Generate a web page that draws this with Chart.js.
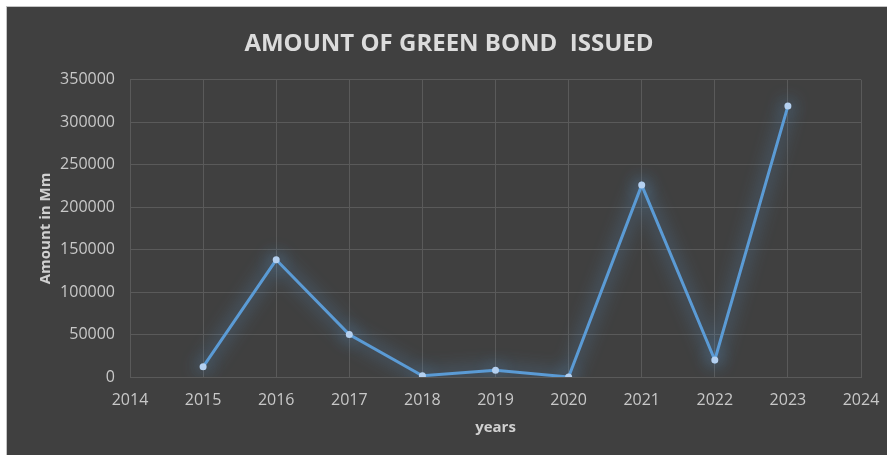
<!DOCTYPE html>
<html>
<head>
<meta charset="utf-8">
<script src="https://cdn.jsdelivr.net/npm/chart.js@4.4.1/dist/chart.umd.min.js"></script>
<style>
  html, body { margin: 0; padding: 0; background: #ffffff; }
  body { width: 887px; height: 455px; position: relative; overflow: hidden; }
  #panel {
    position: absolute; left: 6px; top: 6px; width: 881px; height: 449px;
    background: #404040; border-top: 1px solid #c4c4c4; border-left: 1px solid #c4c4c4;
    box-sizing: border-box;
  }
  #wrap { position: absolute; left: 0; top: 0; width: 880px; height: 448px; }
</style>
</head>
<body>
<div id="panel"><div id="wrap"><canvas id="chart" width="880" height="448"></canvas></div></div>
<script>
// Green bond issuance per year (millions)
const years = [2015, 2016, 2017, 2018, 2019, 2020, 2021, 2022, 2023];
const amounts = [12000, 138000, 50000, 1500, 8000, 0, 226000, 20000, 319000];
const yearTicks = [2014, 2015, 2016, 2017, 2018, 2019, 2020, 2021, 2022, 2023, 2024];
const amountTicks = [0, 50000, 100000, 150000, 200000, 250000, 300000, 350000];

const points = years.map((y, i) => ({ x: y, y: amounts[i] }));

// soft blue halo around the line
const glow = {
  id: 'glow',
  beforeDatasetDraw(chart) {
    const ctx = chart.ctx;
    ctx.save();
    ctx.shadowColor = 'rgba(91, 155, 213, 1)';
    ctx.shadowBlur = 18;
  },
  afterDatasetDraw(chart) {
    chart.ctx.restore();
  }
};

const gridColor = '#5a5a5a';
const tickColor = '#c8c8c8';
const fontFamily = '"Open Sans", sans-serif';

new Chart(document.getElementById('chart'), {
  type: 'line',
  data: {
    datasets: [{
      data: points,
      borderColor: '#5b9bd5',
      borderWidth: 3,
      pointRadius: 3.5,
      pointBackgroundColor: '#b4d0f0',
      pointBorderWidth: 0,
      tension: 0,
      fill: false
    }]
  },
  plugins: [glow],
  options: {
    responsive: false,
    animation: false,
    devicePixelRatio: 1,
    layout: { padding: { left: 30, right: 26, top: 0, bottom: 0 } },
    plugins: {
      legend: { display: false },
      tooltip: { enabled: false },
      title: {
        display: true,
        text: 'AMOUNT OF GREEN BOND  ISSUED',
        color: '#dcdcdc',
        font: { family: fontFamily, size: 24, weight: 'bold' },
        padding: { top: 23, bottom: 21 }
      }
    },
    scales: {
      x: {
        type: 'linear',
        min: yearTicks[0],
        max: yearTicks[yearTicks.length - 1],
        afterBuildTicks(scale) { scale.ticks = yearTicks.map(v => ({ value: v })); },
        afterFit(scale) { scale.height = 78; },
        grid: { color: gridColor, drawTicks: true, tickLength: 14, tickColor: 'rgba(0,0,0,0)' },
        border: { color: gridColor },
        ticks: {
          color: tickColor,
          font: { family: fontFamily, size: 16 },
          padding: 0,
          maxRotation: 0,
          callback: v => String(v)
        },
        title: {
          display: true,
          text: 'years',
          color: '#d0d0d0',
          font: { family: fontFamily, size: 15, weight: 'bold' },
          padding: { top: 0, bottom: 18 }
        }
      },
      y: {
        min: amountTicks[0],
        max: amountTicks[amountTicks.length - 1],
        afterBuildTicks(scale) { scale.ticks = amountTicks.map(v => ({ value: v })); },
        afterFit(scale) { scale.width = 93; },
        grid: { color: gridColor, drawTicks: true, tickLength: 15, tickColor: 'rgba(0,0,0,0)' },
        border: { color: gridColor },
        ticks: {
          color: tickColor,
          font: { family: fontFamily, size: 16 },
          padding: 0,
          callback: v => String(v)
        },
        title: {
          display: true,
          text: 'Amount in Mm',
          color: '#d0d0d0',
          font: { family: fontFamily, size: 15, weight: 'bold' },
          padding: { top: 0, bottom: 0 }
        }
      }
    }
  }
});
</script>
</body>
</html>
